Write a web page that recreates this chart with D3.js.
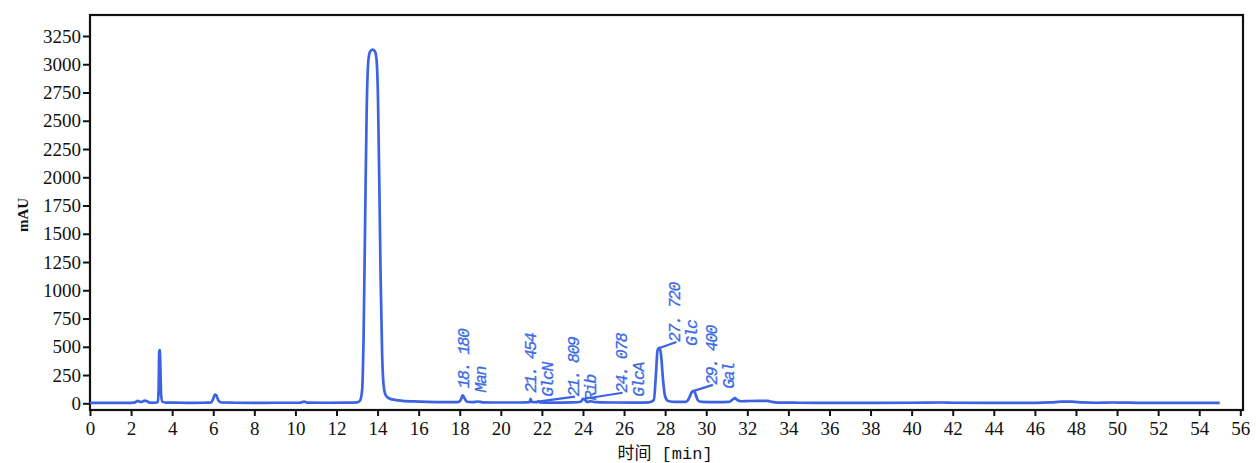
<!DOCTYPE html>
<html><head><meta charset="utf-8">
<script src="https://cdn.jsdelivr.net/npm/d3@7/dist/d3.min.js"></script>
<style>
html,body{margin:0;padding:0;background:#fff;}
svg{display:block;}
</style></head>
<body>
<svg id="chart" width="1256" height="463"></svg>
<script>
// ---- data ----
const timeMin = [0,1.0,2.0,2.2,2.32,2.45,2.55,2.65,2.78,2.9,3.2,3.3,3.34,3.37,3.40,3.43,3.46,3.52,3.7,4.5,5.0,5.5,5.9,6.0,6.08,6.15,6.25,6.4,7.0,8.0,9.0,10.2,10.42,10.6,11.5,12.5,13.0,13.15,13.25,13.32,13.4,13.47,13.55,13.63,13.75,13.87,13.95,14.02,14.08,14.15,14.22,14.3,14.4,14.55,14.85,15.2,16.0,17.0,17.9,18.05,18.14,18.22,18.35,18.6,18.9,19.1,20.0,21.0,21.40,21.45,21.50,21.75,21.81,21.9,22.5,23.5,23.9,24.0,24.1,24.2,24.4,24.6,25.5,26.5,27.2,27.45,27.55,27.63,27.72,27.8,27.9,28.0,28.15,28.5,29.0,29.15,29.3,29.4,29.5,29.6,29.8,30.5,31.1,31.3,31.4,31.5,31.7,32.0,32.5,33.0,33.2,33.5,34.5,36,38,40,41.5,42,44,46,46.8,47.3,47.8,48.3,49,49.8,50.3,51,53,55];
const signalMAU = [3,3,4,8,22,12,14,24,18,6,5,10,120,460,470,300,80,15,6,5,4,5,8,40,78,70,25,7,5,4,5,5,14,6,5,6,8,25,120,600,1700,2600,3030,3110,3130,3115,3040,2700,2000,1100,450,150,70,45,30,22,15,10,10,30,70,50,14,10,16,9,7,7,10,40,12,10,18,8,6,8,14,40,30,12,18,10,7,6,8,30,250,470,490,430,200,60,20,12,12,40,100,110,70,25,12,10,12,35,45,30,18,20,22,22,12,6,5,4,4,5,7,5,4,4,8,14,14,8,5,7,6,4,4,4];

const peakTimes   = [18.180, 21.454, 21.809, 24.078, 27.720, 29.400];
const peakHeights = [70, 40, 15, 40, 490, 110];
const peakLabels  = ["18. 180","21. 454","21. 809","24. 078","27. 720","29. 400"];
const peakNames   = ["Man","GlcN","Rib","GlcA","Glc","Gal"];

const xTicks = d3.range(0, 57, 2);
const yTicks = d3.range(0, 3251, 250);

// ---- layout ----
const W = 1256, H = 463;
const frame = {left: 90, top: 15, right: 1243, bottom: 410};
// leader offsets from the peak apex (px) and whether a leader line is drawn
const leaderLayout = [[2,-7,false],[1,-6,false],[37,-5,true],[38,-6,true],[17,-6,true],[19,-6,true]];
const blue = "#3b63e3";
const textBlue = "#3d6ae6";

const svg = d3.select("#chart");
svg.append("rect").attr("width", W).attr("height", H).attr("fill", "#fff");

const x = d3.scaleLinear().domain([0, 56]).range([90, 1240.3]);
const y = d3.scaleLinear().domain([0, 3250]).range([403.3, 36]);

// frame
svg.append("rect")
  .attr("x", frame.left).attr("y", frame.top)
  .attr("width", frame.right - frame.left).attr("height", frame.bottom - frame.top)
  .attr("fill", "none").attr("stroke", "#111").attr("stroke-width", 2.2);

const tickFont = "'Liberation Serif','DejaVu Serif',serif";

// y axis
const yAxis = svg.append("g").attr("transform", `translate(${frame.left},0)`)
  .call(d3.axisLeft(y).tickValues(yTicks).tickSize(7).tickPadding(2).tickSizeOuter(0).tickFormat(d3.format("d")));
yAxis.select(".domain").remove();
yAxis.selectAll(".tick line").attr("stroke", "#111").attr("stroke-width", 2);
yAxis.selectAll(".tick text").attr("font-family", tickFont).attr("font-size", 19).attr("fill", "#111");

// x axis
const xAxis = svg.append("g").attr("transform", `translate(0,${frame.bottom})`)
  .call(d3.axisBottom(x).tickValues(xTicks).tickSize(6).tickPadding(6).tickSizeOuter(0).tickFormat(d3.format("d")));
xAxis.select(".domain").remove();
xAxis.selectAll(".tick line").attr("stroke", "#111").attr("stroke-width", 2);
xAxis.selectAll(".tick text").attr("font-family", tickFont).attr("font-size", 19).attr("fill", "#111");

// axis titles
svg.append("text")
  .attr("transform", "translate(28,215) rotate(-90)")
  .attr("text-anchor", "middle")
  .attr("font-family", tickFont).attr("font-size", 15).attr("font-weight", "bold").attr("fill", "#111")
  .text("mAU");
svg.append("text")
  .attr("x", 665).attr("y", 459)
  .attr("text-anchor", "middle")
  .attr("font-family", "'Liberation Mono','Noto Sans CJK SC',monospace").attr("font-size", 17).attr("fill", "#111")
  .text("时间 [min]");

// chromatogram
const pts = timeMin.map((t, i) => [t, signalMAU[i]]);
const line = d3.line().x(d => x(d[0])).y(d => y(d[1])).curve(d3.curveMonotoneX);
svg.append("path").datum(pts)
  .attr("d", line)
  .attr("fill", "none").attr("stroke", blue).attr("stroke-width", 2.7)
  .attr("stroke-linejoin", "round");

// peak annotations
const annFont = "'Liberation Mono','DejaVu Sans Mono',monospace";
function annText(tx, ty, str) {
  svg.append("text")
    .attr("transform", `translate(${tx},${ty}) rotate(-90)`)
    .attr("font-family", annFont).attr("font-size", 16.5).attr("font-style", "italic")
    .attr("letter-spacing", "-1.5px")
    .attr("fill", textBlue).attr("stroke", textBlue).attr("stroke-width", 0.3)
    .text(str);
}
peakTimes.forEach((t, i) => {
  const ax = x(t), ay = y(peakHeights[i]);
  const [ldx, ldy, draw] = leaderLayout[i];
  const ex = ax + ldx, ey = ay + ldy;
  if (draw) {
    svg.append("line").attr("x1", ax).attr("y1", ay).attr("x2", ex).attr("y2", ey)
      .attr("stroke", blue).attr("stroke-width", 2.2);
  }
  annText(ex + 4, ey, peakLabels[i]);
  annText(ex + 21, ey + 4, peakNames[i]);
});
</script>
</body></html>
